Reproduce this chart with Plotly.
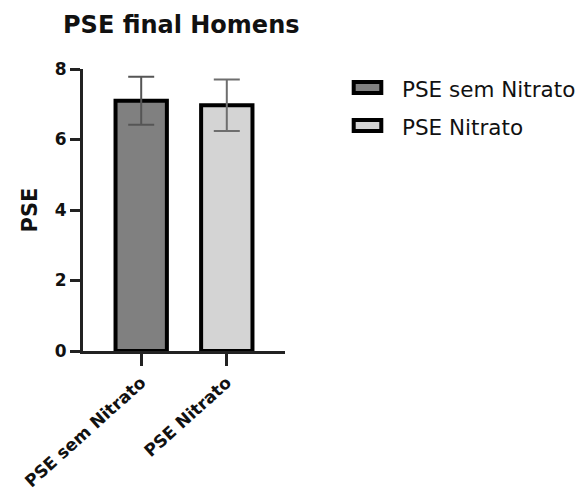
import plotly.graph_objects as go

# Group data: mean perceived exertion (PSE) and its spread
categories = ["PSE sem Nitrato", "PSE Nitrato"]
means = [7.1, 6.97]
errors = [0.68, 0.73]
fill_colors = ["#808080", "#d4d4d4"]
err_colors = ["#555555", "#6e6e6e"]

y_ticks = [0, 2, 4, 6, 8]

W, H = 582, 497
M_L, M_R, M_T, M_B = 83, 297, 69, 146
PLOT_W = W - M_L - M_R
PLOT_H = H - M_T - M_B

FONT = "DejaVu Sans"

fig = go.Figure()
for cat, m, e, fc, ec in zip(categories, means, errors, fill_colors, err_colors):
    fig.add_trace(go.Bar(
        x=[cat], y=[m], name=cat, width=0.6,
        marker=dict(color=fc, line=dict(color="#000000", width=4)),
        error_y=dict(type="data", array=[e], visible=True,
                     color=ec, thickness=2, width=13),
        showlegend=False,
    ))


def px_to_paper_x(px):
    return (px - M_L) / PLOT_W


def px_to_paper_y(py):
    return (H - M_B - py) / PLOT_H


# Legend: wide outlined swatches with labels
legend_rows = [(fill_colors[0], categories[0], 87.5),
               (fill_colors[1], categories[1], 125.5)]
shapes = []
annotations = []
for fc, label, cy in legend_rows:
    shapes.append(dict(
        type="rect", xref="paper", yref="paper",
        x0=px_to_paper_x(353.7), x1=px_to_paper_x(381.3),
        y0=px_to_paper_y(cy - 5.5), y1=px_to_paper_y(cy + 5.5),
        fillcolor=fc, line=dict(color="#000000", width=4), layer="above",
    ))
    annotations.append(dict(
        text=label, xref="paper", yref="paper",
        x=px_to_paper_x(400), y=px_to_paper_y(cy + 2),
        xanchor="left", yanchor="middle", showarrow=False,
        font=dict(family=FONT, size=21.5, color="#111111"),
    ))

fig.update_layout(
    width=W, height=H,
    margin=dict(l=M_L, r=M_R, t=M_T, b=M_B, pad=0),
    paper_bgcolor="white", plot_bgcolor="white",
    bargap=0.4,
    title=dict(text="<b>PSE final Homens</b>", x=63 / W, xanchor="left",
               y=1 - 25 / H, yanchor="middle",
               font=dict(family=FONT, size=24, color="#111111")),
    xaxis=dict(
        range=[-0.68, 1.68], showgrid=False, zeroline=False,
        showline=True, linecolor="#222222", linewidth=3,
        ticks="outside", ticklen=12, tickwidth=2.5, tickcolor="#222222",
        tickangle=-42, automargin=False,
        tickfont=dict(family=FONT, size=17, color="#111111", weight="bold"),
    ),
    yaxis=dict(
        range=[0, 8], tickvals=y_ticks, showgrid=False, zeroline=False,
        showline=True, linecolor="#222222", linewidth=3,
        ticks="outside", ticklen=10, tickwidth=2.5, tickcolor="#222222",
        automargin=False,
        tickfont=dict(family=FONT, size=17, color="#111111", weight="bold"),
        title=dict(text="<b>PSE</b>", standoff=12,
                   font=dict(family=FONT, size=21, color="#111111")),
    ),
    shapes=shapes,
    annotations=annotations,
)

fig.write_html("out.html")
